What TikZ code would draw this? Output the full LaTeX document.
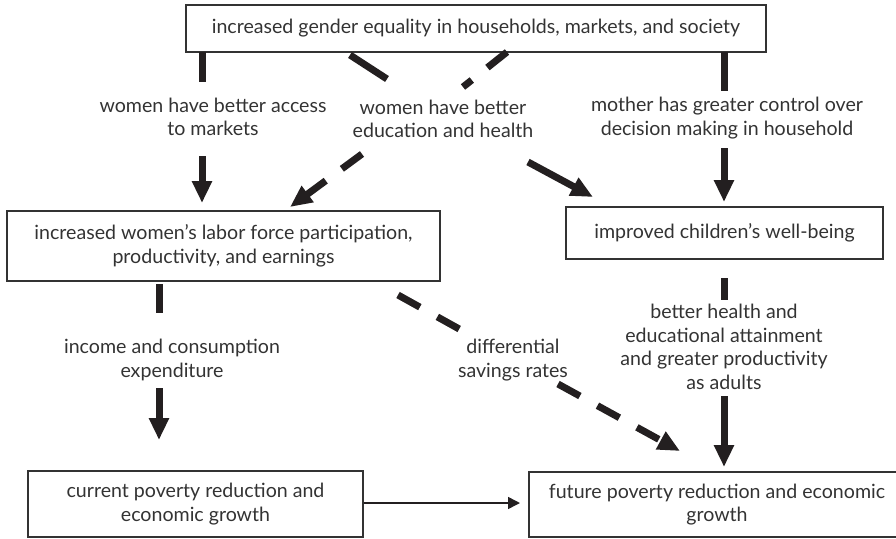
\documentclass[tikz,border=0pt]{standalone}
\usepackage{fontspec}
\setmainfont{Lato}
\usetikzlibrary{arrows.meta}
\definecolor{txt}{HTML}{333333}
\definecolor{ink}{HTML}{231F20}
\begin{document}
\begin{tikzpicture}[x=1pt,y=-1pt,
  box/.style={draw=txt, line width=1.3pt, text=txt, align=center, inner sep=0pt,
    font=\fontsize{19.6}{23.5}\selectfont},
  lbl/.style={text=txt, align=center, inner sep=0pt, font=\fontsize{19.6}{23.5}\selectfont},
  bar/.style={draw=ink, line width=7pt},
  bigarrow/.style={draw=ink, line width=7pt, -{Triangle[length=22pt,width=19pt]}},
  dashline/.style={draw=ink, line width=7pt, dash pattern=on 25pt off 20pt},
  dasharrow/.style={draw=ink, line width=7pt, dash pattern=on 25pt off 20pt,
    -{Triangle[length=22pt,width=19pt]}},
  thinarrow/.style={draw=ink, line width=1.5pt, -{Triangle[length=12pt,width=12pt]}},
]
\useasboundingbox (0,0) rectangle (896,538);

% boxes
\node[box, minimum width=580pt, minimum height=47pt] (top) at (476,28.5)
  {increased gender equality in households, markets, and society};
\node[box, minimum width=433pt, minimum height=70pt] (labor) at (223.5,246)
  {increased women's labor force participation,\\productivity, and earnings};
\node[box, minimum width=317pt, minimum height=52pt] (child) at (724.5,233)
  {improved children's well-being};
\node[box, minimum width=335pt, minimum height=66pt] (curr) at (195.5,504)
  {current poverty reduction and\\economic growth};
\node[box, minimum width=376pt, minimum height=65pt] (fut) at (717,504.5)
  {future poverty reduction and economic\\growth};

% labels
\node[lbl] (l1) at (213,117) {women have better access\\to markets};
\node[lbl] (l2) at (443,119) {women have better\\education and health};
\node[lbl] (l3) at (727,118) {mother has greater control over\\decision making in household};
\node[lbl] (l4) at (172,360) {income and consumption\\expenditure};
\node[lbl] (l5) at (513,360) {differential\\savings rates};
\node[lbl] (l6) at (724,347) {better health and\\educational attainment\\and greater productivity\\as adults};

% connector end points
\coordinate (a1s) at (202,52);  \coordinate (a1e) at (202,82);
\coordinate (a2s) at (202,156); \coordinate (a2e) at (202,203);
\coordinate (b1s) at (507,52);  \coordinate (b1e) at (463,87);
\coordinate (b2s) at (362,154); \coordinate (b2e) at (290,207);
\coordinate (c1s) at (350,55);  \coordinate (c1e) at (387,79);
\coordinate (c2s) at (528,162); \coordinate (c2e) at (593,197);
\coordinate (d1s) at (724,52);  \coordinate (d1e) at (724,91);
\coordinate (d2s) at (724,148); \coordinate (d2e) at (724,202);
\coordinate (e1s) at (159,284); \coordinate (e1e) at (159,313);
\coordinate (e2s) at (159,388); \coordinate (e2e) at (159,440);
\coordinate (f1s) at (398,295); \coordinate (f1e) at (461,330);
\coordinate (f2s) at (558,384); \coordinate (f2e) at (680,451);
\coordinate (g1s) at (724,278); \coordinate (g1e) at (724,300);
\coordinate (g2s) at (724,396); \coordinate (g2e) at (724,467);
\coordinate (h2e) at (520,503);

% connectors
\draw[bar] (a1s) -- (a1e);
\draw[bigarrow] (a2s) -- (a2e);
\draw[dashline] (b1s) -- (b1e);
\draw[dasharrow] (b2s) -- (b2e);
\draw[bar] (c1s) -- (c1e);
\draw[bigarrow] (c2s) -- (c2e);
\draw[bar] (d1s) -- (d1e);
\draw[bigarrow] (d2s) -- (d2e);
\draw[bar] (e1s) -- (e1e);
\draw[bigarrow] (e2s) -- (e2e);
\draw[dashline] (f1s) -- (f1e);
\draw[dasharrow] (f2s) -- (f2e);
\draw[bar] (g1s) -- (g1e);
\draw[bigarrow] (g2s) -- (g2e);
\draw[thinarrow] (curr.east |- h2e) -- (h2e);
\end{tikzpicture}
\end{document}
